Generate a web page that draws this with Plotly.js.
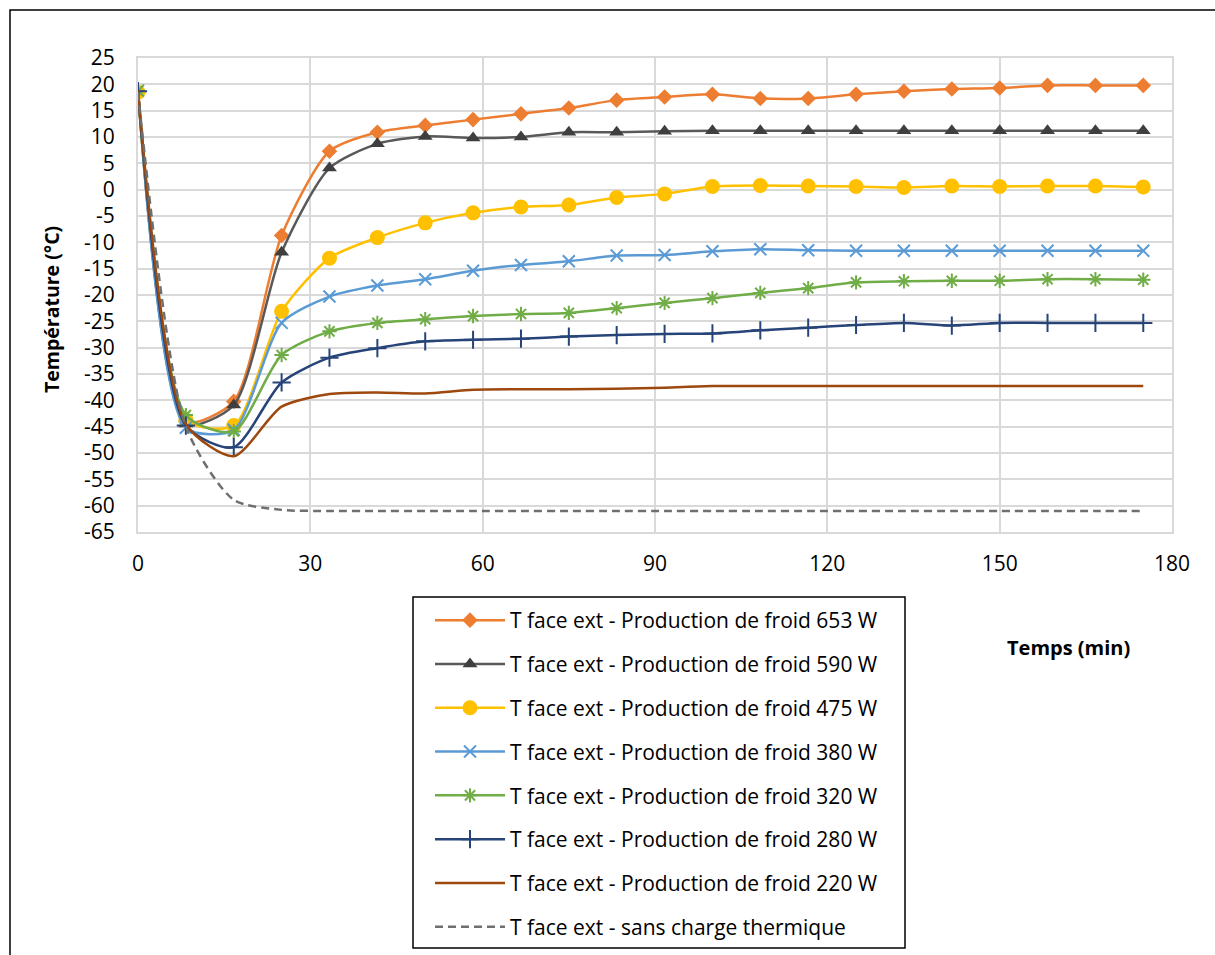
<!DOCTYPE html>
<html>
<head>
<meta charset="utf-8">
<script src="https://cdn.plot.ly/plotly-3.0.1.min.js"></script>
<style>html,body{margin:0;padding:0;background:#fff;}#chart{width:1215px;height:955px;}</style>
</head>
<body>
<div id="chart"></div>
<script>
// Time (min)
const temps = [0, 8.33, 16.67, 25, 33.33, 41.67, 50, 58.33, 66.67, 75, 83.33, 91.67, 100, 108.33, 116.67, 125, 133.33, 141.67, 150, 158.33, 166.67, 175];

// Temperature (°C) series
const froid653 = [18.6, -44.0, -40.2, -8.7, 7.3, 10.9, 12.2, 13.3, 14.4, 15.5, 17.0, 17.6, 18.1, 17.3, 17.3, 18.1, 18.7, 19.1, 19.3, 19.8, 19.8, 19.8];
const froid590 = [18.8, -44.5, -40.9, -11.9, 4.1, 8.7, 10.1, 9.8, 10.0, 10.9, 10.9, 11.1, 11.2, 11.2, 11.2, 11.2, 11.2, 11.2, 11.2, 11.2, 11.2, 11.2];
const froid475 = [18.5, -43.7, -44.8, -23.1, -13.0, -9.1, -6.3, -4.4, -3.3, -2.9, -1.5, -0.8, 0.6, 0.8, 0.7, 0.6, 0.4, 0.7, 0.6, 0.7, 0.7, 0.5];
const froid380 = [18.8, -45.2, -45.6, -25.3, -20.3, -18.2, -17.0, -15.4, -14.3, -13.6, -12.5, -12.4, -11.7, -11.3, -11.5, -11.6, -11.6, -11.6, -11.6, -11.6, -11.6, -11.6];
const froid320 = [18.8, -42.8, -45.9, -31.4, -26.9, -25.3, -24.6, -24.0, -23.6, -23.4, -22.5, -21.5, -20.6, -19.6, -18.7, -17.6, -17.4, -17.3, -17.3, -17.0, -17.0, -17.1];
const froid280 = [18.7, -44.8, -48.9, -36.6, -31.9, -30.1, -28.8, -28.5, -28.3, -27.9, -27.6, -27.4, -27.3, -26.7, -26.2, -25.7, -25.3, -25.8, -25.3, -25.3, -25.3, -25.3];
const froid220 = [18.8, -44.5, -50.6, -41.2, -38.8, -38.5, -38.7, -38.0, -37.9, -37.9, -37.8, -37.6, -37.3, -37.3, -37.3, -37.3, -37.3, -37.3, -37.3, -37.3, -37.3, -37.3];
const sansCharge = [18.5, -45.0, -58.9, -60.8, -61.0, -61.0, -61.0, -61.0, -61.0, -61.0, -61.0, -61.0, -61.0, -61.0, -61.0, -61.0, -61.0, -61.0, -61.0, -61.0, -61.0, -61.0];

const names = [
  "T face ext - Production de froid 653 W",
  "T face ext - Production de froid 590 W",
  "T face ext - Production de froid 475 W",
  "T face ext - Production de froid 380 W",
  "T face ext - Production de froid 320 W",
  "T face ext - Production de froid 280 W",
  "T face ext - Production de froid 220 W",
  "T face ext - sans charge thermique"
];

const xTicks = [0, 30, 60, 90, 120, 150, 180];
const yTicks = [25, 20, 15, 10, 5, 0, -5, -10, -15, -20, -25, -30, -35, -40, -45, -50, -55, -60, -65];

const FONT = "Open Sans, sans-serif";
const SM = 0.7;

function tr(i, y, lineColor, marker, dash) {
  const t = {
    x: temps, y: y, name: names[i], type: "scatter",
    mode: marker ? "lines+markers" : "lines",
    line: {color: lineColor, width: 2.5, shape: "spline", smoothing: SM, dash: dash || "solid"},
    legendgroup: "g" + i,
    hoverinfo: "skip"
  };
  if (marker) t.marker = marker;
  return t;
}

const data = [
  tr(0, froid653, "#ED7D31", {symbol: "diamond", size: 12, color: "#ED7D31"}),
  tr(1, froid590, "#595959", {symbol: "triangle-up", size: 13, color: "#3F3F3F"}),
  tr(2, froid475, "#FFC000", {symbol: "circle", size: 15, color: "#FFC000"}),
  tr(3, froid380, "#5B9BD5", {symbol: "x-thin-open", size: 12, color: "#5B9BD5", line: {width: 2, color: "#5B9BD5"}}),
  tr(4, froid320, "#70AD47", {symbol: "asterisk-open", size: 12, color: "#70AD47", line: {width: 2, color: "#70AD47"}}),
  tr(5, froid280, "#264478", {symbol: "cross-thin-open", size: 13, color: "#264478", line: {width: 2, color: "#264478"}}),
  tr(6, froid220, "#9E480E", null),
  tr(7, sansCharge, "#6F6F6F", null, "8px,5px")
];

const L = 138, R = 1172, T = 58, B = 532, W = 1215, H = 955;
const pw = R - L, ph = B - T;
function px(x) { return (x - L) / pw; }
function py(y) { return (B - y) / ph; }

const layout = {
  width: W, height: H,
  margin: {l: L, r: W - R, t: T, b: H - B, pad: 0, autoexpand: false},
  paper_bgcolor: "#ffffff", plot_bgcolor: "#ffffff",
  font: {family: FONT, color: "#000000"},
  showlegend: true,
  xaxis: {
    range: [0, 180], tickvals: xTicks, ticktext: xTicks.map(String),
    showgrid: true, gridcolor: "#D9D9D9", gridwidth: 2,
    showline: true, linecolor: "#D9D9D9", linewidth: 2, mirror: true,
    zeroline: false, ticks: "", ticklabelstandoff: 12,
    tickfont: {family: FONT, size: 21, color: "#000"},
    fixedrange: true
  },
  yaxis: {
    range: [-65, 25], tickvals: yTicks, ticktext: yTicks.map(String),
    showgrid: true, gridcolor: "#D9D9D9", gridwidth: 2,
    showline: true, linecolor: "#D9D9D9", linewidth: 2, mirror: true,
    zeroline: false, ticks: "", ticklabelstandoff: 17,
    tickfont: {family: FONT, size: 21, color: "#000"},
    fixedrange: true
  },
  legend: {
    x: px(430), y: py(600), xanchor: "left", yanchor: "top",
    bgcolor: "rgba(255,255,255,0)", borderwidth: 0,
    font: {family: FONT, size: 21, color: "#000"},
    tracegroupgap: 13.5, traceorder: "grouped",
    itemwidth: 70
  },
  annotations: [{
    text: "Temps (min)", xref: "paper", yref: "paper",
    x: px(1068), y: py(647), xanchor: "center", yanchor: "middle",
    showarrow: false, font: {family: FONT, size: 20, color: "#000", weight: "bold"}
  }, {
    text: "Température (°C)", xref: "paper", yref: "paper",
    x: px(51), y: py(310), xanchor: "center", yanchor: "middle", textangle: -90,
    showarrow: false, font: {family: FONT, size: 19.5, color: "#000", weight: "bold"}
  }],
  shapes: [{
    type: "rect", xref: "paper", yref: "paper",
    x0: px(10), x1: px(1218), y0: py(10), y1: py(970),
    line: {color: "#000", width: 1.5}, fillcolor: "rgba(0,0,0,0)", layer: "below"
  }, {
    type: "rect", xref: "paper", yref: "paper",
    x0: px(413), x1: px(905), y0: py(948), y1: py(597),
    line: {color: "#000", width: 1.5}, fillcolor: "#ffffff", layer: "below"
  }]
};

Plotly.newPlot("chart", data, layout, {displayModeBar: false, staticPlot: true});
</script>
</body>
</html>
